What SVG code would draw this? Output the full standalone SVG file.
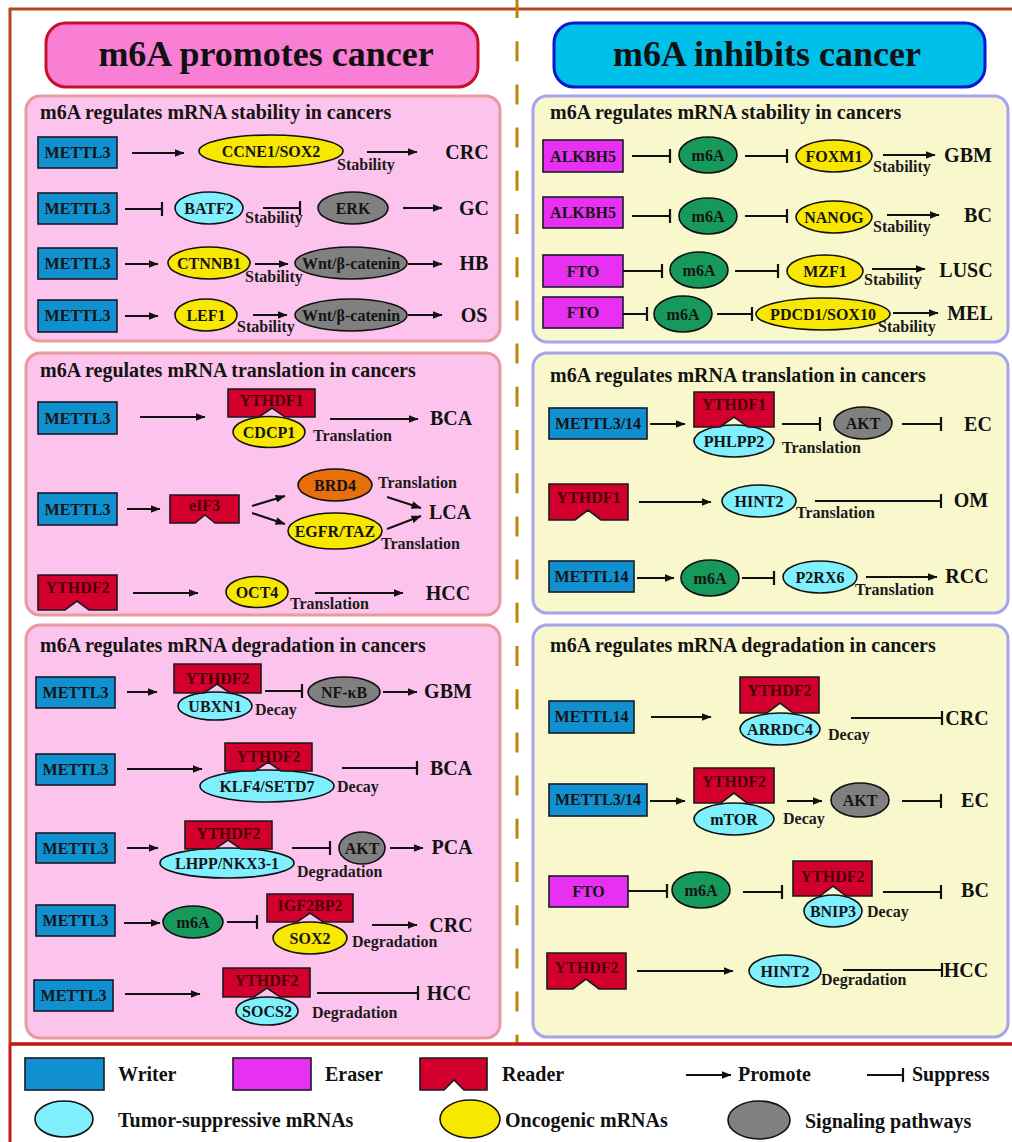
<svg xmlns="http://www.w3.org/2000/svg" width="1012" height="1142" viewBox="0 0 1012 1142">
<style>
text{font-family:"Liberation Serif","Times New Roman",serif;font-weight:bold}
.w{fill:#1190d0;stroke:#1a1a2a;stroke-width:1.6}
.e{fill:#e830f2;stroke:#1a1a2a;stroke-width:1.6}
.r{fill:#d3002e;stroke:#1a1a1a;stroke-width:1.6}
.cy{fill:#80f0ff;stroke:#111;stroke-width:1.6}
.yl{fill:#f8e800;stroke:#111;stroke-width:1.6}
.gy{fill:#808080;stroke:#111;stroke-width:1.6}
.gn{fill:#17995c;stroke:#111;stroke-width:1.6}
.or{fill:#e8700c;stroke:#111;stroke-width:1.6}
.t{font-size:16px;text-anchor:middle;fill:#141414}
.rt{font-size:16px;text-anchor:middle;fill:#4a0008}
.lb{font-size:16px;fill:#1a1a1a}
.ca{font-size:20px;text-anchor:middle;fill:#111}
.pt{font-size:20px;fill:#141414}
.lg{font-size:20px;fill:#111}
.pp{fill:#fcc4ec;stroke:#e89a9c;stroke-width:3}
.yp{fill:#f8f8cc;stroke:#a4a4f0;stroke-width:3}
.a{stroke:#111;stroke-width:2;fill:none;marker-end:url(#ah)}
.i{stroke:#111;stroke-width:2;fill:none;marker-end:url(#bar)}
</style>
<defs>
<marker id="ah" viewBox="0 0 10 8" markerWidth="10" markerHeight="8" refX="9.5" refY="4" orient="auto" markerUnits="userSpaceOnUse"><path d="M0,0 L10,4 L0,8 Z" fill="#111"/></marker>
<marker id="bar" viewBox="0 0 4 14" markerWidth="4" markerHeight="14" refX="2" refY="7" orient="auto" markerUnits="userSpaceOnUse"><path d="M2,0 V14" stroke="#111" stroke-width="2.2"/></marker>
</defs>
<rect width="1012" height="1142" fill="#ffffff"/>
<!-- frame -->
<g id="frame">
<line x1="9" y1="9" x2="1012" y2="9" stroke="#b5441f" stroke-width="3"/>
<line x1="10" y1="8" x2="10" y2="1044" stroke="#b5441f" stroke-width="3"/>
<line x1="10" y1="1044" x2="10" y2="1142" stroke="#c81414" stroke-width="3"/>
<line x1="517" y1="-2" x2="517" y2="1043" stroke="#b8860b" stroke-width="3" stroke-dasharray="20 23.2"/>
<line x1="10" y1="1044" x2="1012" y2="1044" stroke="#c81414" stroke-width="3.5"/>
</g>
<!-- headers -->
<g id="header-promotes"><rect x="46" y="23" width="432" height="64" rx="20" fill="#f97fd4" stroke="#c8102e" stroke-width="3"/><text x="266" y="66" font-size="36px" text-anchor="middle" fill="#111">m6A promotes cancer</text></g>
<g id="header-inhibits"><rect x="554" y="23" width="431" height="64" rx="20" fill="#00bfe8" stroke="#0a18d0" stroke-width="3"/><text x="767" y="66" font-size="36px" text-anchor="middle" fill="#111">m6A inhibits cancer</text></g>
<!-- panels -->
<g id="panel-L1"><rect class="pp" x="26" y="96" width="474" height="245" rx="14"/><text class="pt" x="40" y="119">m6A regulates mRNA stability in cancers</text></g>
<g id="panel-L2"><rect class="pp" x="26" y="353" width="474" height="262" rx="14"/><text class="pt" x="40" y="377">m6A regulates mRNA translation in cancers</text></g>
<g id="panel-L3"><rect class="pp" x="26" y="625" width="474" height="413" rx="14"/><text class="pt" x="40" y="652">m6A regulates mRNA degradation in cancers</text></g>
<g id="panel-R1"><rect class="yp" x="533" y="96" width="475" height="246" rx="14"/><text class="pt" x="550" y="119">m6A regulates mRNA stability in cancers</text></g>
<g id="panel-R2"><rect class="yp" x="533" y="353" width="475" height="260" rx="14"/><text class="pt" x="550" y="382">m6A regulates mRNA translation in cancers</text></g>
<g id="panel-R3"><rect class="yp" x="533" y="625" width="475" height="412" rx="14"/><text class="pt" x="550" y="652">m6A regulates mRNA degradation in cancers</text></g>

<!-- LEFT PANEL 1 nodes -->
<g id="L1-mettl3-1"><rect class="w" x="38" y="137" width="79" height="31"/><text class="t" x="77.5" y="158">METTL3</text></g>
<g id="L1-ccne1"><ellipse class="yl" cx="271" cy="151" rx="72" ry="16"/><text class="t" x="271" y="157">CCNE1/SOX2</text></g>
<g id="L1-mettl3-2"><rect class="w" x="38" y="193" width="79" height="31"/><text class="t" x="77.5" y="214">METTL3</text></g>
<g id="L1-batf2"><ellipse class="cy" cx="209" cy="208" rx="34" ry="16"/><text class="t" x="209" y="214">BATF2</text></g>
<g id="L1-erk"><ellipse class="gy" cx="353" cy="208" rx="35" ry="16"/><text class="t" x="353" y="214">ERK</text></g>
<g id="L1-mettl3-3"><rect class="w" x="38" y="248" width="79" height="31"/><text class="t" x="77.5" y="269">METTL3</text></g>
<g id="L1-ctnnb1"><ellipse class="yl" cx="209" cy="263" rx="41" ry="16"/><text class="t" x="209" y="269">CTNNB1</text></g>
<g id="L1-wnt-1"><ellipse class="gy" cx="351" cy="263" rx="56" ry="16"/><text class="t" x="351" y="269">Wnt/β-catenin</text></g>
<g id="L1-mettl3-4"><rect class="w" x="38" y="300" width="79" height="32"/><text class="t" x="77.5" y="321">METTL3</text></g>
<g id="L1-lef1"><ellipse class="yl" cx="206" cy="315" rx="31" ry="16"/><text class="t" x="206" y="321">LEF1</text></g>
<g id="L1-wnt-2"><ellipse class="gy" cx="351" cy="315" rx="56" ry="16"/><text class="t" x="351" y="321">Wnt/β-catenin</text></g>

<!-- LEFT PANEL 2 nodes -->
<g id="L2-mettl3-1"><rect class="w" x="38" y="402" width="79" height="32"/><text class="t" x="77.5" y="424">METTL3</text></g>
<g id="L2-cdcp1"><ellipse class="yl" cx="269" cy="432" rx="36" ry="15.5"/><text class="t" x="269" y="438">CDCP1</text></g>
<g id="L2-ythdf1"><path class="r" d="M228 389 H315 V417 H285 L272 408 L259 417 H228 Z"/><text class="rt" x="271.5" y="406">YTHDF1</text></g>
<g id="L2-mettl3-2"><rect class="w" x="38" y="493" width="79" height="32"/><text class="t" x="77.5" y="515">METTL3</text></g>
<g id="L2-eif3"><path class="r" d="M170 495 H239 V523 H215 L205 515 L195 523 H170 Z"/><text class="rt" x="204.5" y="511">eIF3</text></g>
<g id="L2-brd4"><ellipse class="or" cx="335" cy="485" rx="37" ry="16"/><text class="t" x="335" y="491">BRD4</text></g>
<g id="L2-egfr"><ellipse class="yl" cx="335" cy="531" rx="47" ry="18"/><text class="t" x="335" y="537">EGFR/TAZ</text></g>
<g id="L2-ythdf2"><path class="r" d="M38 575 H117 V610 H89 L77 601 L65 610 H38 Z"/><text class="rt" x="77.5" y="593">YTHDF2</text></g>
<g id="L2-oct4"><ellipse class="yl" cx="257" cy="592" rx="31" ry="15.5"/><text class="t" x="257" y="598">OCT4</text></g>

<!-- LEFT PANEL 3 nodes -->
<g id="L3-mettl3-1"><rect class="w" x="36" y="677" width="79" height="31"/><text class="t" x="75.5" y="698">METTL3</text></g>
<g id="L3-ubxn1"><ellipse class="cy" cx="215" cy="706" rx="37" ry="14"/><text class="t" x="215" y="712">UBXN1</text></g>
<g id="L3-ythdf2-1"><path class="r" d="M174 664 H261 V693 H230 L217 684 L204 693 H174 Z"/><text class="rt" x="217.5" y="684">YTHDF2</text></g>
<g id="L3-nfkb"><ellipse class="gy" cx="344" cy="692" rx="36" ry="15"/><text class="t" x="344" y="698">NF-κB</text></g>
<g id="L3-mettl3-2"><rect class="w" x="36" y="754" width="79" height="31"/><text class="t" x="75.5" y="775">METTL3</text></g>
<g id="L3-klf4"><ellipse class="cy" cx="267" cy="786" rx="67" ry="16"/><text class="t" x="267" y="792">KLF4/SETD7</text></g>
<g id="L3-ythdf2-2"><path class="r" d="M225 743 H312 V771 H281 L268 762 L255 771 H225 Z"/><text class="rt" x="268.5" y="762">YTHDF2</text></g>
<g id="L3-mettl3-3"><rect class="w" x="36" y="833" width="79" height="30"/><text class="t" x="75.5" y="854">METTL3</text></g>
<g id="L3-lhpp"><ellipse class="cy" cx="227" cy="863" rx="67" ry="15"/><text class="t" x="227" y="869">LHPP/NKX3-1</text></g>
<g id="L3-ythdf2-3"><path class="r" d="M185 821 H272 V849 H241 L228 840 L215 849 H185 Z"/><text class="rt" x="228.5" y="839">YTHDF2</text></g>
<g id="L3-akt"><ellipse class="gy" cx="362" cy="848" rx="23" ry="16"/><text class="t" x="362" y="854">AKT</text></g>
<g id="L3-mettl3-4"><rect class="w" x="36" y="905" width="79" height="31"/><text class="t" x="75.5" y="926">METTL3</text></g>
<g id="L3-m6a"><ellipse class="gn" cx="193" cy="922" rx="30" ry="16"/><text class="t" x="193" y="928">m6A</text></g>
<g id="L3-sox2"><ellipse class="yl" cx="310" cy="938" rx="37" ry="16"/><text class="t" x="310" y="944">SOX2</text></g>
<g id="L3-igf2bp2"><path class="r" d="M267 894 H353 V922 H323 L310 913 L297 922 H267 Z"/><text class="rt" x="310" y="911">IGF2BP2</text></g>
<g id="L3-mettl3-5"><rect class="w" x="34" y="980" width="79" height="31"/><text class="t" x="73.5" y="1001">METTL3</text></g>
<g id="L3-socs2"><ellipse class="cy" cx="267" cy="1011" rx="31" ry="14"/><text class="t" x="267" y="1017">SOCS2</text></g>
<g id="L3-ythdf2-4"><path class="r" d="M223 968 H310 V997 H280 L267 988 L254 997 H223 Z"/><text class="rt" x="266.5" y="986">YTHDF2</text></g>

<!-- RIGHT PANEL 1 nodes -->
<g id="R1-alkbh5-1"><rect class="e" x="543" y="140" width="80" height="32"/><text class="t" x="583" y="162">ALKBH5</text></g>
<g id="R1-m6a-1"><ellipse class="gn" cx="708" cy="155" rx="29" ry="18"/><text class="t" x="708" y="161">m6A</text></g>
<g id="R1-foxm1"><ellipse class="yl" cx="834" cy="156" rx="38" ry="16"/><text class="t" x="834" y="162">FOXM1</text></g>
<g id="R1-alkbh5-2"><rect class="e" x="543" y="197" width="80" height="31"/><text class="t" x="583" y="218">ALKBH5</text></g>
<g id="R1-m6a-2"><ellipse class="gn" cx="708" cy="216" rx="29" ry="18"/><text class="t" x="708" y="222">m6A</text></g>
<g id="R1-nanog"><ellipse class="yl" cx="834" cy="217" rx="38" ry="16"/><text class="t" x="834" y="223">NANOG</text></g>
<g id="R1-fto-1"><rect class="e" x="543" y="255" width="80" height="32"/><text class="t" x="583" y="277">FTO</text></g>
<g id="R1-m6a-3"><ellipse class="gn" cx="699" cy="270" rx="29" ry="18"/><text class="t" x="699" y="276">m6A</text></g>
<g id="R1-mzf1"><ellipse class="yl" cx="825" cy="271" rx="38" ry="16"/><text class="t" x="825" y="277">MZF1</text></g>
<g id="R1-fto-2"><rect class="e" x="543" y="297" width="80" height="31"/><text class="t" x="583" y="318">FTO</text></g>
<g id="R1-m6a-4"><ellipse class="gn" cx="683" cy="314" rx="29" ry="18"/><text class="t" x="683" y="320">m6A</text></g>
<g id="R1-pdcd1"><ellipse class="yl" cx="823" cy="314" rx="67" ry="16"/><text class="t" x="823" y="320">PDCD1/SOX10</text></g>

<!-- RIGHT PANEL 2 nodes -->
<g id="R2-mettl314"><rect class="w" x="549" y="408" width="98" height="31"/><text class="t" x="598" y="429">METTL3/14</text></g>
<g id="R2-phlpp2"><ellipse class="cy" cx="734" cy="441" rx="40" ry="16"/><text class="t" x="734" y="447">PHLPP2</text></g>
<g id="R2-ythdf1-1"><path class="r" d="M694 392 H774 V427 H748 L734 417 L720 427 H694 Z"/><text class="rt" x="734" y="410">YTHDF1</text></g>
<g id="R2-akt"><ellipse class="gy" cx="863" cy="423" rx="29" ry="16"/><text class="t" x="863" y="429">AKT</text></g>
<g id="R2-ythdf1-2"><path class="r" d="M549 484 H628 V520 H601 L588 510 L575 520 H549 Z"/><text class="rt" x="588.5" y="503">YTHDF1</text></g>
<g id="R2-hint2"><ellipse class="cy" cx="759" cy="501" rx="37" ry="16"/><text class="t" x="759" y="507">HINT2</text></g>
<g id="R2-mettl14"><rect class="w" x="549" y="561" width="85" height="31"/><text class="t" x="591.5" y="582">METTL14</text></g>
<g id="R2-m6a"><ellipse class="gn" cx="710" cy="578" rx="29" ry="18"/><text class="t" x="710" y="584">m6A</text></g>
<g id="R2-p2rx6"><ellipse class="cy" cx="820" cy="577" rx="37" ry="16"/><text class="t" x="820" y="583">P2RX6</text></g>

<!-- RIGHT PANEL 3 nodes -->
<g id="R3-mettl14"><rect class="w" x="549" y="701" width="85" height="32"/><text class="t" x="591.5" y="722">METTL14</text></g>
<g id="R3-arrdc4"><ellipse class="cy" cx="780" cy="729" rx="40" ry="16"/><text class="t" x="780" y="735">ARRDC4</text></g>
<g id="R3-ythdf2-1"><path class="r" d="M740 677 H819 V713 H793 L780 703 L767 713 H740 Z"/><text class="rt" x="779.5" y="696">YTHDF2</text></g>
<g id="R3-mettl314"><rect class="w" x="549" y="784" width="98" height="32"/><text class="t" x="598" y="805">METTL3/14</text></g>
<g id="R3-mtor"><ellipse class="cy" cx="734" cy="819" rx="40" ry="16"/><text class="t" x="734" y="825">mTOR</text></g>
<g id="R3-ythdf2-2"><path class="r" d="M694 768 H774 V803 H747 L734 793 L721 803 H694 Z"/><text class="rt" x="734" y="787">YTHDF2</text></g>
<g id="R3-akt"><ellipse class="gy" cx="860" cy="800" rx="29" ry="17"/><text class="t" x="860" y="806">AKT</text></g>
<g id="R3-fto"><rect class="e" x="549" y="876" width="79" height="31"/><text class="t" x="588.5" y="897">FTO</text></g>
<g id="R3-m6a"><ellipse class="gn" cx="701" cy="890" rx="29" ry="18"/><text class="t" x="701" y="896">m6A</text></g>
<g id="R3-bnip3"><ellipse class="cy" cx="833" cy="911" rx="29" ry="16"/><text class="t" x="833" y="917">BNIP3</text></g>
<g id="R3-ythdf2-3"><path class="r" d="M793 861 H872 V896 H846 L833 886 L820 896 H793 Z"/><text class="rt" x="832.5" y="882">YTHDF2</text></g>
<g id="R3-ythdf2-4"><path class="r" d="M547 953 H626 V989 H599 L586 979 L573 989 H547 Z"/><text class="rt" x="586.5" y="973">YTHDF2</text></g>
<g id="R3-hint2"><ellipse class="cy" cx="785" cy="971" rx="36" ry="16"/><text class="t" x="785" y="977">HINT2</text></g>

<!-- outcome and process labels -->
<g id="labels">
<text class="lb" x="337" y="170">Stability</text>
<text class="lb" x="245" y="223">Stability</text>
<text class="lb" x="245" y="282">Stability</text>
<text class="lb" x="237" y="332">Stability</text>
<text class="lb" x="313" y="441">Translation</text>
<text class="lb" x="378" y="488">Translation</text>
<text class="lb" x="381" y="549">Translation</text>
<text class="lb" x="290" y="609">Translation</text>
<text class="lb" x="255" y="715">Decay</text>
<text class="lb" x="337" y="792">Decay</text>
<text class="lb" x="297" y="877">Degradation</text>
<text class="lb" x="352" y="947">Degradation</text>
<text class="lb" x="312" y="1018">Degradation</text>
<text class="lb" x="873" y="172">Stability</text>
<text class="lb" x="873" y="232">Stability</text>
<text class="lb" x="864" y="285">Stability</text>
<text class="lb" x="878" y="332">Stability</text>
<text class="lb" x="782" y="453">Translation</text>
<text class="lb" x="796" y="518">Translation</text>
<text class="lb" x="855" y="595">Translation</text>
<text class="lb" x="828" y="740">Decay</text>
<text class="lb" x="783" y="824">Decay</text>
<text class="lb" x="867" y="917">Decay</text>
<text class="lb" x="821" y="985">Degradation</text>
<text class="ca" x="467" y="159">CRC</text>
<text class="ca" x="474" y="215">GC</text>
<text class="ca" x="474" y="270">HB</text>
<text class="ca" x="474" y="322">OS</text>
<text class="ca" x="451" y="425">BCA</text>
<text class="ca" x="450" y="519">LCA</text>
<text class="ca" x="448" y="600">HCC</text>
<text class="ca" x="448" y="698">GBM</text>
<text class="ca" x="451" y="775">BCA</text>
<text class="ca" x="452" y="854">PCA</text>
<text class="ca" x="451" y="932">CRC</text>
<text class="ca" x="449" y="1000">HCC</text>
<text class="ca" x="968" y="162">GBM</text>
<text class="ca" x="978" y="222">BC</text>
<text class="ca" x="966" y="277">LUSC</text>
<text class="ca" x="970" y="320">MEL</text>
<text class="ca" x="978" y="431">EC</text>
<text class="ca" x="971" y="507">OM</text>
<text class="ca" x="967" y="583">RCC</text>
<text class="ca" x="967" y="725">CRC</text>
<text class="ca" x="975" y="807">EC</text>
<text class="ca" x="975" y="897">BC</text>
<text class="ca" x="966" y="977">HCC</text>
</g>

<!-- connectors -->
<g id="connectors">
<line class="a" x1="132" y1="153" x2="184" y2="153"/>
<line class="a" x1="367" y1="152" x2="417" y2="152"/>
<line class="i" x1="125" y1="209" x2="162" y2="209"/>
<line class="i" x1="263" y1="208" x2="300" y2="208"/>
<line class="a" x1="403" y1="208" x2="442" y2="208"/>
<line class="a" x1="125" y1="264" x2="158" y2="264"/>
<line class="a" x1="255" y1="264" x2="288" y2="264"/>
<line class="a" x1="408" y1="264" x2="442" y2="264"/>
<line class="a" x1="125" y1="316" x2="158" y2="316"/>
<line class="a" x1="253" y1="315" x2="287" y2="315"/>
<line class="a" x1="408" y1="315" x2="442" y2="315"/>

<line class="a" x1="140" y1="417" x2="205" y2="417"/>
<line class="a" x1="330" y1="419" x2="418" y2="419"/>
<line class="a" x1="127" y1="509" x2="160" y2="509"/>
<line class="a" x1="252" y1="506" x2="285" y2="496"/>
<line class="a" x1="252" y1="513" x2="285" y2="524"/>
<line class="a" x1="387" y1="497" x2="421" y2="508"/>
<line class="a" x1="387" y1="529" x2="421" y2="516"/>
<line class="a" x1="133" y1="593" x2="198" y2="593"/>
<line class="a" x1="315" y1="593" x2="403" y2="593"/>

<line class="a" x1="127" y1="692" x2="157" y2="692"/>
<line class="i" x1="265" y1="691" x2="302" y2="691"/>
<line class="a" x1="383" y1="692" x2="417" y2="692"/>
<line class="a" x1="127" y1="769" x2="202" y2="769"/>
<line class="i" x1="342" y1="768" x2="417" y2="768"/>
<line class="a" x1="127" y1="848" x2="158" y2="848"/>
<line class="i" x1="292" y1="848" x2="330" y2="848"/>
<line class="a" x1="390" y1="848" x2="423" y2="848"/>
<line class="a" x1="124" y1="923" x2="160" y2="923"/>
<line class="i" x1="227" y1="922" x2="257" y2="922"/>
<line class="a" x1="372" y1="925" x2="417" y2="925"/>
<line class="a" x1="125" y1="994" x2="200" y2="994"/>
<line class="i" x1="317" y1="993" x2="418" y2="993"/>

<line class="i" x1="632" y1="156" x2="670" y2="156"/>
<line class="i" x1="745" y1="156" x2="787" y2="156"/>
<line class="a" x1="883" y1="155" x2="935" y2="155"/>
<line class="i" x1="632" y1="216" x2="670" y2="216"/>
<line class="i" x1="745" y1="216" x2="787" y2="216"/>
<line class="a" x1="887" y1="215" x2="939" y2="215"/>
<line class="i" x1="623" y1="271" x2="662" y2="271"/>
<line class="i" x1="735" y1="271" x2="778" y2="271"/>
<line class="a" x1="872" y1="269" x2="925" y2="269"/>
<line class="i" x1="623" y1="314" x2="647" y2="314"/>
<line class="i" x1="717" y1="314" x2="752" y2="314"/>
<line class="a" x1="893" y1="313" x2="938" y2="313"/>

<line class="a" x1="650" y1="424" x2="685" y2="424"/>
<line class="i" x1="782" y1="424" x2="820" y2="424"/>
<line class="i" x1="902" y1="424" x2="941" y2="424"/>
<line class="a" x1="639" y1="502" x2="711" y2="502"/>
<line class="i" x1="815" y1="501" x2="941" y2="501"/>
<line class="a" x1="637" y1="578" x2="674" y2="578"/>
<line class="i" x1="742" y1="578" x2="774" y2="578"/>
<line class="a" x1="866" y1="577" x2="937" y2="577"/>

<line class="a" x1="651" y1="717" x2="711" y2="717"/>
<line class="i" x1="851" y1="718" x2="942" y2="718"/>
<line class="a" x1="650" y1="801" x2="685" y2="801"/>
<line class="a" x1="787" y1="801" x2="822" y2="801"/>
<line class="i" x1="902" y1="801" x2="941" y2="801"/>
<line class="i" x1="628" y1="891" x2="667" y2="891"/>
<line class="i" x1="743" y1="892" x2="782" y2="892"/>
<line class="i" x1="883" y1="892" x2="941" y2="892"/>
<line class="a" x1="637" y1="971" x2="733" y2="971"/>
<line class="i" x1="843" y1="970" x2="942" y2="970"/>
</g>

<!-- legend -->
<g id="legend">
<g id="legend-writer"><rect class="w" x="25" y="1058" width="79" height="32"/><text class="lg" x="118" y="1081">Writer</text></g>
<g id="legend-eraser"><rect class="e" x="233" y="1058" width="78" height="32"/><text class="lg" x="325" y="1081">Eraser</text></g>
<g id="legend-reader"><path class="r" d="M420 1058 H487 V1090 H464 L454 1080 L444 1090 H420 Z"/><text class="lg" x="502" y="1081">Reader</text></g>
<g id="legend-promote"><line class="a" x1="686" y1="1075" x2="731" y2="1075"/><text class="lg" x="738" y="1081">Promote</text></g>
<g id="legend-suppress"><line class="i" x1="867" y1="1075" x2="903" y2="1075"/><text class="lg" x="912" y="1081">Suppress</text></g>
<g id="legend-ts"><ellipse class="cy" cx="64" cy="1119" rx="29" ry="18"/><text class="lg" x="118" y="1127">Tumor-suppressive mRNAs</text></g>
<g id="legend-onc"><ellipse class="yl" cx="470" cy="1119" rx="30" ry="19"/><text class="lg" x="505" y="1127">Oncogenic mRNAs</text></g>
<g id="legend-sig"><ellipse class="gy" cx="759" cy="1120" rx="31" ry="19"/><text class="lg" x="805" y="1128">Signaling pathways</text></g>
</g>
</svg>
